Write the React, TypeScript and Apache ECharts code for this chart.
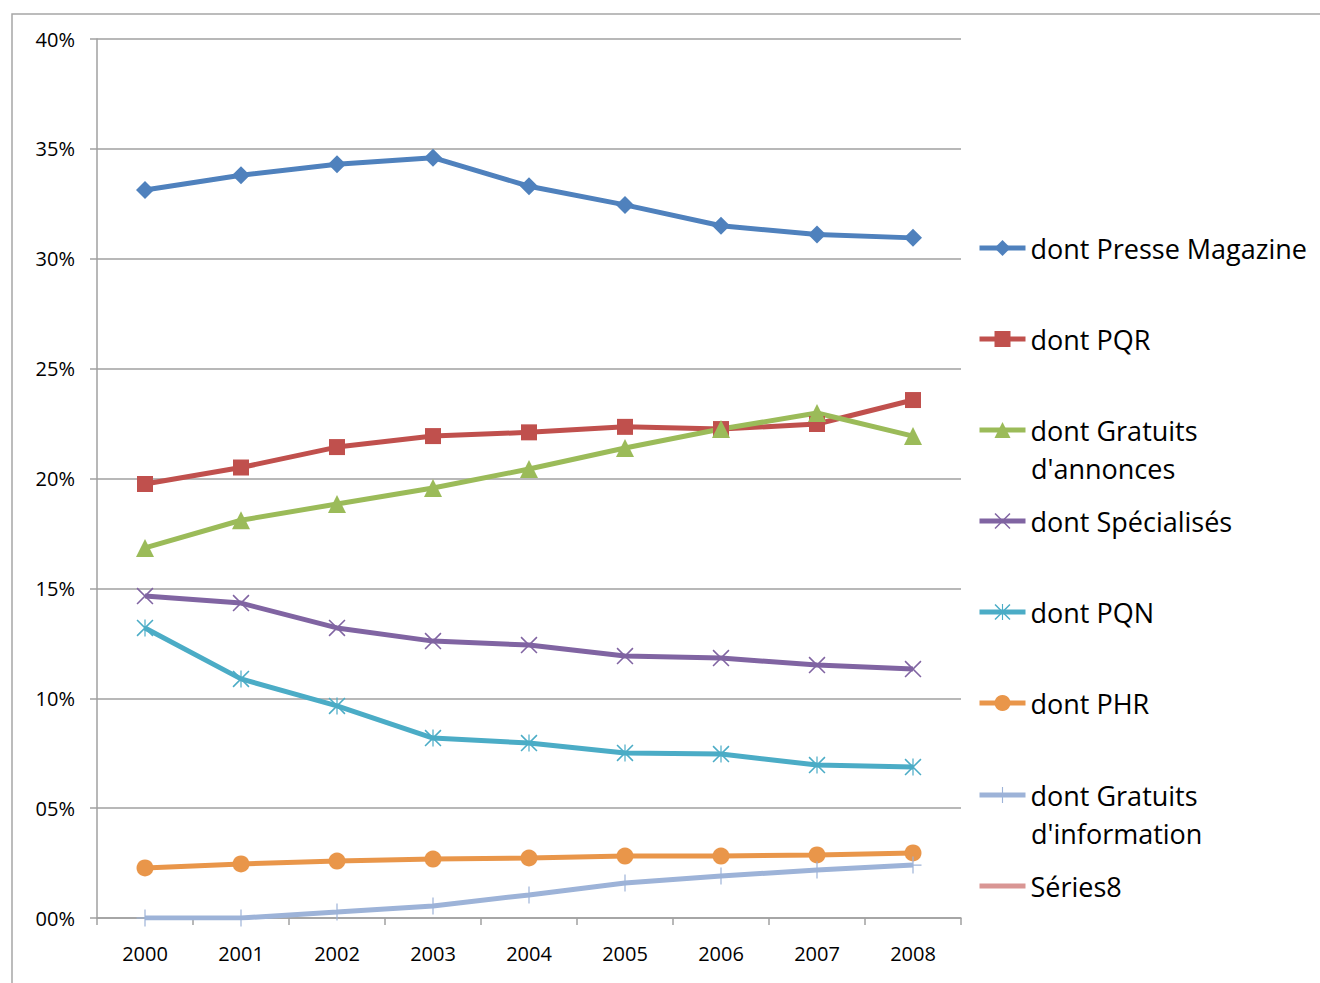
import React, { useEffect, useRef } from "react";
import * as echarts from "echarts";

const years = ["2000", "2001", "2002", "2003", "2004", "2005", "2006", "2007", "2008"];
const presseMagazine = [33.13, 33.8, 34.3, 34.6, 33.3, 32.45, 31.5, 31.1, 30.95];
const pqr = [19.75, 20.5, 21.43, 21.93, 22.1, 22.35, 22.25, 22.48, 23.57];
const gratuitsAnnonces = [16.84, 18.1, 18.84, 19.57, 20.43, 21.39, 22.25, 22.98, 21.93];
const specialises = [14.65, 14.33, 13.2, 12.6, 12.42, 11.92, 11.83, 11.51, 11.33];
const pqn = [13.2, 10.88, 9.65, 8.19, 7.96, 7.51, 7.46, 6.96, 6.87];
const phr = [2.28, 2.46, 2.59, 2.68, 2.73, 2.82, 2.82, 2.87, 2.96];
const gratuitsInfo = [0, 0, 0.27, 0.55, 1.05, 1.59, 1.91, 2.18, 2.41];
const series8: number[] = [];

const FONT = "Open Sans";

const X_PATH =
  "path://M0,1.3L1.3,0L20,18.7L18.7,20ZM18.7,0L20,1.3L1.3,20L0,18.7Z";
const STAR_PATH =
  "path://M0,1.3L1.3,0L20,18.7L18.7,20ZM18.7,0L20,1.3L1.3,20L0,18.7ZM9.3,0H10.7V20H9.3Z";
const PLUS_PATH = "path://M9.3,0H10.7V20H9.3ZM0,9.3H20V10.7H0Z";

const defs = [
  { name: "dont Presse Magazine", data: presseMagazine, color: "#4F81BD", symbol: "diamond", size: 18, center: 248 },
  { name: "dont PQR", data: pqr, color: "#C0504D", symbol: "rect", size: 16, center: 339 },
  { name: "dont Gratuits d'annonces", first: "dont Gratuits", second: "d'annonces", data: gratuitsAnnonces, color: "#9BBB59", symbol: "triangle", size: 18, center: 430 },
  { name: "dont Spécialisés", data: specialises, color: "#8064A2", symbol: X_PATH, size: 17, center: 521 },
  { name: "dont PQN", data: pqn, color: "#4BACC6", symbol: STAR_PATH, size: 17, center: 612 },
  { name: "dont PHR", data: phr, color: "#E9964A", symbol: "circle", size: 17, center: 703 },
  { name: "dont Gratuits d'information", first: "dont Gratuits", second: "d'information", data: gratuitsInfo, color: "#9DB3D8", symbol: PLUS_PATH, size: 17, center: 795 },
  { name: "Séries8", data: series8, color: "#D99694", symbol: "none", size: 0, center: 886 },
];

export default function App() {
  const ref = useRef<HTMLDivElement>(null);
  useEffect(() => {
    if (!ref.current) return;
    const chart = echarts.init(ref.current, undefined, { renderer: "svg" });
    const itemH = 20;
    const LH = 38;
    const legends = defs.map((d) => ({
      show: true,
      orient: "vertical",
      left: 977,
      top: d.center - LH / 2,
      padding: 0,
      itemWidth: 46,
      itemHeight: itemH,
      data: [d.name],
      formatter: () => d.first || d.name,
      textStyle: { fontFamily: FONT, fontSize: 27, color: "#000", lineHeight: LH },
      lineStyle: { width: 5 },
      itemStyle: d.symbol === "none" ? { opacity: 0 } : {},
      selectedMode: false,
    }));
    const secondLines = defs
      .filter((d) => d.second)
      .map((d) => ({
        type: "text",
        left: 1031,
        top: d.center + LH / 2,
        style: {
          text: d.second,
          fontFamily: FONT,
          fontSize: 27,
          fill: "#000",
          lineHeight: LH,
        },
        silent: true,
      }));
    chart.setOption({
      animation: false,
      backgroundColor: "#fff",
      graphic: [
        {
          type: "rect",
          shape: { x: 12, y: 14, width: 1400, height: 1100 },
          style: { fill: "none", stroke: "#A6A6A6", lineWidth: 1.5 },
          silent: true,
        },
        ...secondLines,
      ],
      legend: legends,
      grid: { left: 97, top: 39, width: 864, height: 879 },
      xAxis: {
        type: "category",
        data: years,
        boundaryGap: true,
        axisLine: { show: true, lineStyle: { color: "#A0A0A0", width: 1.5 } },
        axisTick: { show: true, length: 7, lineStyle: { color: "#A0A0A0", width: 1.5 } },
        axisLabel: { fontFamily: FONT, fontSize: 20, color: "#000", margin: 25 },
        splitLine: { show: false },
      },
      yAxis: {
        type: "value",
        min: 0,
        max: 40,
        interval: 5,
        axisLine: { show: true, lineStyle: { color: "#A0A0A0", width: 1.5 } },
        axisTick: { show: true, length: 7, lineStyle: { color: "#A0A0A0", width: 1.5 } },
        axisLabel: {
          fontFamily: FONT,
          fontSize: 20,
          color: "#000",
          margin: 22,
          formatter: (v: number) => (v < 10 ? "0" + v : "" + v) + "%",
        },
        splitLine: { show: true, lineStyle: { color: "#A0A0A0", width: 1.5 } },
      },
      series: defs.map((d) => ({
        name: d.name,
        type: "line",
        data: d.data,
        symbol: d.symbol,
        symbolSize: d.size,
        showSymbol: d.symbol !== "none",
        lineStyle: { color: d.color, width: 5 },
        itemStyle: { color: d.color, borderWidth: 0 },
        emphasis: { disabled: true },
        z: 3,
      })),
    });
    return () => chart.dispose();
  }, []);
  return (
    <div
      ref={ref}
      style={{ position: "absolute", left: 0, top: 0, width: 1320, height: 983 }}
    />
  );
}
